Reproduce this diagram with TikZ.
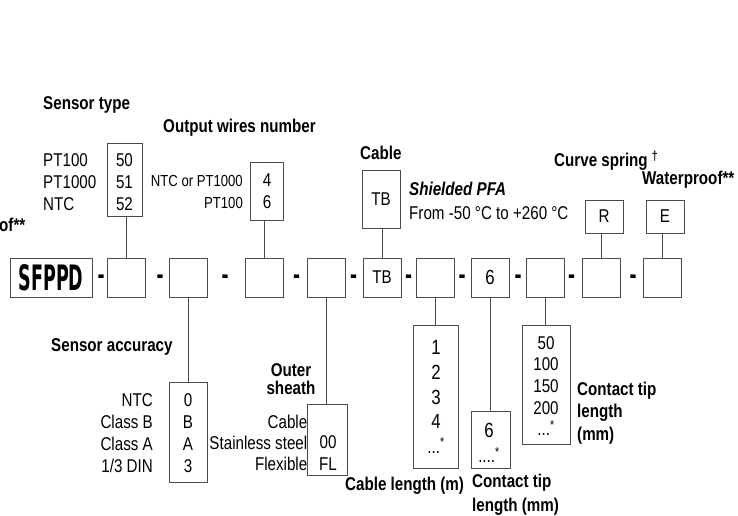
\documentclass[tikz,border=0pt]{standalone}
\usepackage{fontspec}
\setmainfont{Liberation Sans}[FakeStretch=0.82]
\newfontfamily\sfppdfont{DejaVu Sans Bold}
\newfontfamily\dashfont{Liberation Sans Bold}[FakeStretch=0.7]
\definecolor{boxc}{gray}{0.30}
\tikzset{
  lbl/.style={font=\fontsize{18.5}{22}\selectfont\bfseries, inner sep=0pt},
  txt/.style={font=\fontsize{18.5}{22}\selectfont, inner sep=0pt},
  big/.style={font=\fontsize{20.5}{24.6}\selectfont, inner sep=0pt},
  box/.style={draw=boxc, line width=0.9pt, minimum width=38pt, minimum height=39pt, inner sep=0pt},
  conn/.style={draw=boxc, line width=0.9pt},
  dsh/.style={font=\dashfont\fontsize{30}{30}\selectfont, inner sep=0pt},
}
\begin{document}
\begin{tikzpicture}[x=1pt,y=-1pt]
\useasboundingbox (0,0) rectangle (738,516);

% main row
\node[box, minimum width=82pt, font=\sfppdfont\fontsize{35}{35}\selectfont] (sf) at (51,277.5) {\scalebox{0.5}[1]{SFPPD}};
\node[box] (b1) at (126.5,277.5) {};
\node[box] (b2) at (188,277.5) {};
\node[box] (b3) at (264,277.5) {};
\node[box] (b4) at (326,277.5) {};
\node[box, txt] (b5) at (382,277.5) {TB};
\node[box] (b6) at (435,277.5) {};
\node[box, big] (b7) at (490,277.5) {6};
\node[box] (b8) at (545,277.5) {};
\node[box] (b9) at (601,277.5) {};
\node[box] (b10) at (662,277.5) {};

\node[dsh] (d1) at (101,280) {-};
\node[dsh] (d2) at (160,280) {-};
\node[dsh] (d3) at (225,280) {-};
\node[dsh] (d4) at (296.5,280) {-};
\node[dsh] (d5) at (353.5,280) {-};
\node[dsh] (d6) at (408.5,280) {-};
\node[dsh] (d7) at (462,280) {-};
\node[dsh] (d8) at (518,280) {-};
\node[dsh] (d9) at (571.5,280) {-};
\node[dsh] (d10) at (633,280) {-};

% top option boxes
\node[box, minimum width=35pt, minimum height=73pt] (st) at (124.5,179.5) {};
\node[txt, align=center] (stv) at (124.5,182) {50\\51\\52};
\node[txt, align=left, anchor=west] (stl) at (43,182) {PT100\\PT1000\\NTC};
\node[lbl, anchor=west] (stt) at (43,105) {Sensor type};

\node[box, minimum width=33pt, minimum height=58pt] (ow) at (266.5,191) {};
\node[txt, align=center] (owv) at (267,191.5) {4\\6};
\node[txt, align=right, anchor=east, font=\fontsize{16}{22}\selectfont] (owl) at (243,191.5) {NTC or PT1000\\PT100};
\node[lbl, anchor=west] (owt) at (163,128) {Output wires number};

\node[box, minimum width=38pt, minimum height=58pt, txt] (cb) at (381,199) {TB};
\node[lbl, anchor=west] (cbt) at (360,153) {Cable};
\node[lbl, anchor=west, font=\fontsize{18.5}{22}\selectfont\bfseries\itshape] (pfa) at (409,189) {Shielded PFA};
\node[txt, anchor=west] (rng) at (409,213) {From -50 °C to +260 °C};

\node[box, minimum height=33pt, txt] (rb) at (604,216.5) {R};
\node[lbl, anchor=west] (rt) at (554,161) {Curve spring \textsuperscript{†}};
\node[box, minimum height=33pt, txt] (eb) at (665,216.5) {E};
\node[lbl, anchor=west] (et) at (642,180) {Waterproof**};
\node[lbl, anchor=west] (wl) at (-1,225) {of**};

% bottom option boxes
\node[box, minimum width=38pt, minimum height=100pt] (sa) at (188,432) {};
\node[txt, align=center] (sav) at (188,433) {0\\B\\A\\3};
\node[txt, align=right, anchor=east] (sal) at (153,433) {NTC\\Class B\\Class A\\1/3 DIN};
\node[lbl, anchor=west] (sat) at (51,347) {Sensor accuracy};

\node[box, minimum width=40pt, minimum height=71pt] (os) at (327.5,439.5) {};
\node[txt, align=center] (osv) at (328,453) {00\\FL};
\node[txt, align=right, anchor=east, font=\fontsize{18.5}{21}\selectfont] (osl) at (307.5,443) {Cable\\Stainless steel\\Flexible};
\node[lbl, align=center, font=\fontsize{18.5}{18.5}\selectfont\bfseries] (ost) at (291,379) {Outer\\sheath};

\node[box, minimum width=45pt, minimum height=143pt] (cl) at (435.5,396.5) {};
\node[big, align=center] (clv) at (436,397) {1\\2\\3\\4\\\fontsize{18.5}{18.5}\selectfont...\textsuperscript{*}};
\node[lbl, anchor=west] (clt) at (345,486) {Cable length (m)};

\node[box, minimum width=39pt, minimum height=57pt] (ct) at (490.5,439.5) {};
\node[big, align=center] (ctv) at (489,443) {6\\\fontsize{18.5}{18.5}\selectfont....\textsuperscript{*}};
\node[lbl, align=left, anchor=west, font=\fontsize{18.5}{23.5}\selectfont\bfseries] (ctt) at (472,495) {Contact tip\\length (mm)};

\node[box, minimum width=48pt, minimum height=119pt] (cu) at (546,384.5) {};
\node[txt, align=center, font=\fontsize{18.5}{21.6}\selectfont] (cuv) at (546,386) {50\\100\\150\\200\\...\textsuperscript{*}};
\node[lbl, align=left, anchor=west, font=\fontsize{18.5}{22.5}\selectfont\bfseries] (cut) at (577,413) {Contact tip\\length\\(mm)};

% connectors
\draw[conn] (b1.north) -- (b1.north |- st.south);
\draw[conn] (b3.north) -- (b3.north |- ow.south);
\draw[conn] (b5.north) -- (b5.north |- cb.south);
\draw[conn] (b9.north) -- (b9.north |- rb.south);
\draw[conn] (b10.north) -- (b10.north |- eb.south);
\draw[conn] (b2.south) -- (b2.south |- sa.north);
\draw[conn] (b4.south) -- (b4.south |- os.north);
\draw[conn] (b6.south) -- (b6.south |- cl.north);
\draw[conn] (b7.south) -- (b7.south |- ct.north);
\draw[conn] (b8.south) -- (b8.south |- cu.north);
\end{tikzpicture}
\end{document}
